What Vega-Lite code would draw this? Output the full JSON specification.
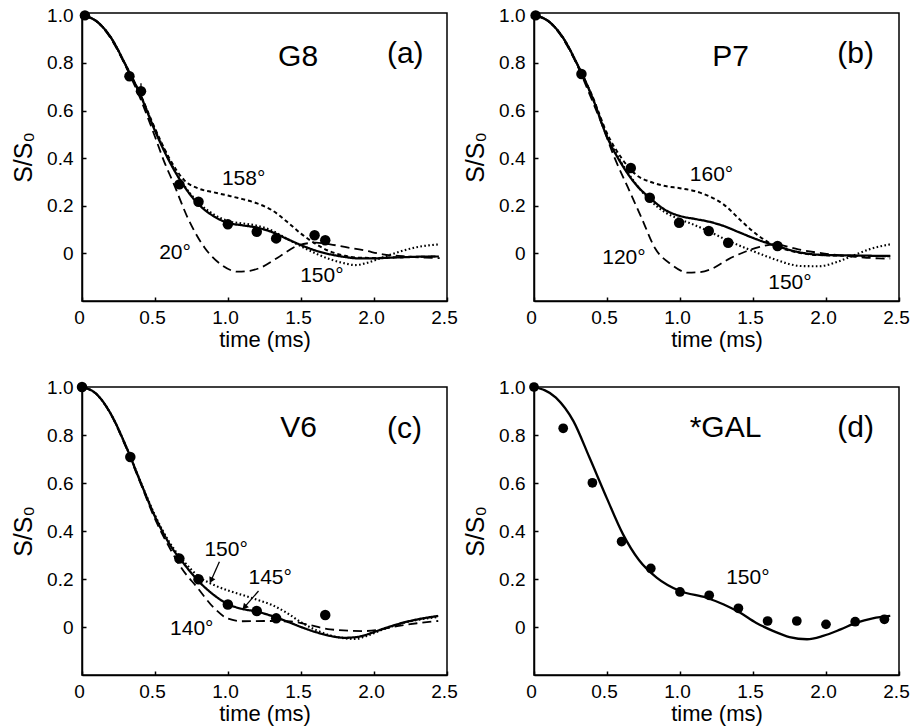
{
"$schema": "https://vega.github.io/schema/vega-lite/v6.json",
"padding": {"left": 10, "top": 5, "right": 5, "bottom": 2},
"bounds": "flush",
"columns": 2,
"spacing": {"row": 86, "column": 87},
"concat": [
{
"width": 365, "height": 288,
"encoding": {
 "x": {"field": "t", "type": "quantitative", "scale": {"domain": [0, 2.5], "nice": false}, "axis": {"title": "time (ms)", "values": [0, 0.5, 1, 1.5, 2, 2.5], "labelExpr": "datum.value==0?'0':format(datum.value,'.1f')"}},
 "y": {"field": "s", "type": "quantitative", "scale": {"domain": [-0.2, 1.01], "nice": false, "zero": false}, "axis": {"title": "S/S₀", "values": [0, 0.2, 0.4, 0.6, 0.8, 1], "labelExpr": "datum.value==0?'0':format(datum.value,'.1f')"}}
},
"layer": [
 {"data": {"values": [
  {"curve":"fit","t":0,"s":1.0},{"curve":"fit","t":0.1,"s":0.975},{"curve":"fit","t":0.2,"s":0.905},{"curve":"fit","t":0.3,"s":0.79},{"curve":"fit","t":0.4,"s":0.665},{"curve":"fit","t":0.5,"s":0.515},{"curve":"fit","t":0.6,"s":0.385},{"curve":"fit","t":0.7,"s":0.282},{"curve":"fit","t":0.8,"s":0.205},{"curve":"fit","t":0.9,"s":0.157},{"curve":"fit","t":1.0,"s":0.128},{"curve":"fit","t":1.1,"s":0.118},{"curve":"fit","t":1.2,"s":0.108},{"curve":"fit","t":1.3,"s":0.09},{"curve":"fit","t":1.4,"s":0.062},{"curve":"fit","t":1.5,"s":0.035},{"curve":"fit","t":1.6,"s":0.012},{"curve":"fit","t":1.7,"s":-0.004},{"curve":"fit","t":1.8,"s":-0.015},{"curve":"fit","t":1.9,"s":-0.021},{"curve":"fit","t":2.0,"s":-0.021},{"curve":"fit","t":2.1,"s":-0.018},{"curve":"fit","t":2.2,"s":-0.016},{"curve":"fit","t":2.3,"s":-0.014},{"curve":"fit","t":2.42,"s":-0.013},
  {"curve":"alt1","t":0,"s":1.0},{"curve":"alt1","t":0.1,"s":0.975},{"curve":"alt1","t":0.2,"s":0.905},{"curve":"alt1","t":0.3,"s":0.79},{"curve":"alt1","t":0.4,"s":0.665},{"curve":"alt1","t":0.5,"s":0.52},{"curve":"alt1","t":0.6,"s":0.39},{"curve":"alt1","t":0.7,"s":0.285},{"curve":"alt1","t":0.8,"s":0.212},{"curve":"alt1","t":0.9,"s":0.165},{"curve":"alt1","t":1.0,"s":0.136},{"curve":"alt1","t":1.1,"s":0.126},{"curve":"alt1","t":1.2,"s":0.116},{"curve":"alt1","t":1.3,"s":0.096},{"curve":"alt1","t":1.4,"s":0.063},{"curve":"alt1","t":1.5,"s":0.03},{"curve":"alt1","t":1.6,"s":0.0},{"curve":"alt1","t":1.7,"s":-0.025},{"curve":"alt1","t":1.8,"s":-0.042},{"curve":"alt1","t":1.87,"s":-0.049},{"curve":"alt1","t":1.95,"s":-0.04},{"curve":"alt1","t":2.0,"s":-0.03},{"curve":"alt1","t":2.1,"s":-0.008},{"curve":"alt1","t":2.2,"s":0.012},{"curve":"alt1","t":2.3,"s":0.027},{"curve":"alt1","t":2.45,"s":0.038},
  {"curve":"alt2","t":0,"s":1.0},{"curve":"alt2","t":0.1,"s":0.975},{"curve":"alt2","t":0.2,"s":0.905},{"curve":"alt2","t":0.3,"s":0.79},{"curve":"alt2","t":0.4,"s":0.668},{"curve":"alt2","t":0.5,"s":0.525},{"curve":"alt2","t":0.6,"s":0.398},{"curve":"alt2","t":0.7,"s":0.308},{"curve":"alt2","t":0.8,"s":0.272},{"curve":"alt2","t":0.9,"s":0.257},{"curve":"alt2","t":1.0,"s":0.243},{"curve":"alt2","t":1.1,"s":0.228},{"curve":"alt2","t":1.2,"s":0.21},{"curve":"alt2","t":1.3,"s":0.182},{"curve":"alt2","t":1.4,"s":0.135},{"curve":"alt2","t":1.5,"s":0.083},{"curve":"alt2","t":1.6,"s":0.04},{"curve":"alt2","t":1.7,"s":0.008},{"curve":"alt2","t":1.8,"s":-0.01},{"curve":"alt2","t":1.9,"s":-0.018},{"curve":"alt2","t":2.0,"s":-0.019},{"curve":"alt2","t":2.2,"s":-0.016},{"curve":"alt2","t":2.45,"s":-0.013},
  {"curve":"alt3","t":0,"s":1.0},{"curve":"alt3","t":0.1,"s":0.975},{"curve":"alt3","t":0.2,"s":0.9},{"curve":"alt3","t":0.3,"s":0.785},{"curve":"alt3","t":0.4,"s":0.65},{"curve":"alt3","t":0.5,"s":0.49},{"curve":"alt3","t":0.56,"s":0.39},{"curve":"alt3","t":0.63,"s":0.29},{"curve":"alt3","t":0.72,"s":0.155},{"curve":"alt3","t":0.84,"s":0.024},{"curve":"alt3","t":0.95,"s":-0.046},{"curve":"alt3","t":1.07,"s":-0.077},{"curve":"alt3","t":1.15,"s":-0.073},{"curve":"alt3","t":1.23,"s":-0.058},{"curve":"alt3","t":1.34,"s":-0.018},{"curve":"alt3","t":1.48,"s":0.033},{"curve":"alt3","t":1.6,"s":0.045},{"curve":"alt3","t":1.7,"s":0.038},{"curve":"alt3","t":1.8,"s":0.027},{"curve":"alt3","t":1.93,"s":0.013},{"curve":"alt3","t":2.06,"s":-0.004},{"curve":"alt3","t":2.2,"s":-0.012},{"curve":"alt3","t":2.35,"s":-0.018},{"curve":"alt3","t":2.45,"s":-0.02}
 ]},
 "mark": {"type": "line", "interpolate": "monotone", "color": "black"},
 "encoding": {
  "strokeDash": {"field": "curve", "type": "nominal", "scale": {"domain": ["fit", "alt1", "alt2", "alt3"], "range": [[1, 0], [1.6, 2.4], [4, 3], [9, 5]]}, "legend": null},
  "strokeWidth": {"field": "curve", "type": "nominal", "scale": {"domain": ["fit", "alt1", "alt2", "alt3"], "range": [2.3, 1.8, 1.3, 1.3]}, "legend": null}
 }},
 {"data": {"values": [{"t": 0.404, "s": 0.681, "s2": 0.715}]}, "mark": {"type": "rule", "color": "black", "strokeWidth": 1.3}, "encoding": {"y2": {"field": "s2"}}},
 {"data": {"values": [
  {"t":0.02,"s":1.0},{"t":0.325,"s":0.744},{"t":0.404,"s":0.681},{"t":0.667,"s":0.29},{"t":0.798,"s":0.217},{"t":0.999,"s":0.122},{"t":1.197,"s":0.091},{"t":1.33,"s":0.063},{"t":1.593,"s":0.076},{"t":1.666,"s":0.055}
 ]}, "mark": {"type": "circle", "size": 110, "color": "black", "opacity": 1}},
 {"data": {"values": [{"t": 1.48, "s": 0.825, "label": "G8"}, {"t": 2.214, "s": 0.839, "label": "(a)"}]}, "mark": {"type": "text", "fontSize": 30, "align": "center", "baseline": "middle"}, "encoding": {"text": {"field": "label"}}},
 {"data": {"values": [{"t": 1.107, "s": 0.314, "label": "158°"}, {"t": 0.637, "s": 0.0, "label": "20°"}, {"t": 1.643, "s": -0.095, "label": "150°"}]}, "mark": {"type": "text", "fontSize": 21, "align": "center", "baseline": "middle"}, "encoding": {"text": {"field": "label"}}}
]
},
{
"width": 365, "height": 288,
"encoding": {
 "x": {"field": "t", "type": "quantitative", "scale": {"domain": [0, 2.5], "nice": false}, "axis": {"title": "time (ms)", "values": [0, 0.5, 1, 1.5, 2, 2.5], "labelExpr": "datum.value==0?'0':format(datum.value,'.1f')"}},
 "y": {"field": "s", "type": "quantitative", "scale": {"domain": [-0.2, 1.01], "nice": false, "zero": false}, "axis": {"title": "S/S₀", "values": [0, 0.2, 0.4, 0.6, 0.8, 1], "labelExpr": "datum.value==0?'0':format(datum.value,'.1f')"}}
},
"layer": [
 {"data": {"values": [
  {"curve":"fit","t":0,"s":1.0},{"curve":"fit","t":0.1,"s":0.975},{"curve":"fit","t":0.2,"s":0.905},{"curve":"fit","t":0.3,"s":0.79},{"curve":"fit","t":0.4,"s":0.655},{"curve":"fit","t":0.5,"s":0.49},{"curve":"fit","t":0.6,"s":0.375},{"curve":"fit","t":0.7,"s":0.288},{"curve":"fit","t":0.8,"s":0.23},{"curve":"fit","t":0.9,"s":0.182},{"curve":"fit","t":1.0,"s":0.157},{"curve":"fit","t":1.1,"s":0.145},{"curve":"fit","t":1.2,"s":0.133},{"curve":"fit","t":1.3,"s":0.115},{"curve":"fit","t":1.4,"s":0.09},{"curve":"fit","t":1.5,"s":0.065},{"curve":"fit","t":1.6,"s":0.043},{"curve":"fit","t":1.7,"s":0.024},{"curve":"fit","t":1.8,"s":0.007},{"curve":"fit","t":1.9,"s":-0.003},{"curve":"fit","t":2.0,"s":-0.007},{"curve":"fit","t":2.2,"s":-0.009},{"curve":"fit","t":2.44,"s":-0.011},
  {"curve":"alt1","t":0,"s":1.0},{"curve":"alt1","t":0.1,"s":0.975},{"curve":"alt1","t":0.2,"s":0.905},{"curve":"alt1","t":0.3,"s":0.79},{"curve":"alt1","t":0.4,"s":0.655},{"curve":"alt1","t":0.5,"s":0.495},{"curve":"alt1","t":0.6,"s":0.38},{"curve":"alt1","t":0.7,"s":0.29},{"curve":"alt1","t":0.8,"s":0.22},{"curve":"alt1","t":0.9,"s":0.172},{"curve":"alt1","t":1.0,"s":0.143},{"curve":"alt1","t":1.08,"s":0.124},{"curve":"alt1","t":1.2,"s":0.092},{"curve":"alt1","t":1.31,"s":0.059},{"curve":"alt1","t":1.47,"s":0.017},{"curve":"alt1","t":1.65,"s":-0.025},{"curve":"alt1","t":1.75,"s":-0.045},{"curve":"alt1","t":1.83,"s":-0.053},{"curve":"alt1","t":1.95,"s":-0.054},{"curve":"alt1","t":2.08,"s":-0.035},{"curve":"alt1","t":2.18,"s":-0.011},{"curve":"alt1","t":2.3,"s":0.018},{"curve":"alt1","t":2.44,"s":0.038},
  {"curve":"alt2","t":0,"s":1.0},{"curve":"alt2","t":0.1,"s":0.975},{"curve":"alt2","t":0.2,"s":0.905},{"curve":"alt2","t":0.3,"s":0.79},{"curve":"alt2","t":0.4,"s":0.66},{"curve":"alt2","t":0.5,"s":0.505},{"curve":"alt2","t":0.6,"s":0.4},{"curve":"alt2","t":0.7,"s":0.33},{"curve":"alt2","t":0.8,"s":0.3},{"curve":"alt2","t":0.9,"s":0.283},{"curve":"alt2","t":1.0,"s":0.274},{"curve":"alt2","t":1.1,"s":0.262},{"curve":"alt2","t":1.2,"s":0.24},{"curve":"alt2","t":1.3,"s":0.205},{"curve":"alt2","t":1.42,"s":0.136},{"curve":"alt2","t":1.54,"s":0.073},{"curve":"alt2","t":1.63,"s":0.038},{"curve":"alt2","t":1.75,"s":0.012},{"curve":"alt2","t":1.9,"s":-0.005},{"curve":"alt2","t":2.0,"s":-0.008},{"curve":"alt2","t":2.2,"s":-0.01},{"curve":"alt2","t":2.44,"s":-0.012},
  {"curve":"alt3","t":0,"s":1.0},{"curve":"alt3","t":0.1,"s":0.975},{"curve":"alt3","t":0.2,"s":0.9},{"curve":"alt3","t":0.3,"s":0.785},{"curve":"alt3","t":0.4,"s":0.64},{"curve":"alt3","t":0.46,"s":0.55},{"curve":"alt3","t":0.553,"s":0.4},{"curve":"alt3","t":0.644,"s":0.276},{"curve":"alt3","t":0.736,"s":0.15},{"curve":"alt3","t":0.827,"s":0.024},{"curve":"alt3","t":0.94,"s":-0.046},{"curve":"alt3","t":1.056,"s":-0.081},{"curve":"alt3","t":1.13,"s":-0.079},{"curve":"alt3","t":1.216,"s":-0.065},{"curve":"alt3","t":1.33,"s":-0.025},{"curve":"alt3","t":1.45,"s":0.008},{"curve":"alt3","t":1.54,"s":0.026},{"curve":"alt3","t":1.65,"s":0.038},{"curve":"alt3","t":1.81,"s":0.017},{"curve":"alt3","t":1.99,"s":-0.001},{"curve":"alt3","t":2.2,"s":-0.014},{"curve":"alt3","t":2.36,"s":-0.021},{"curve":"alt3","t":2.44,"s":-0.022}
 ]},
 "mark": {"type": "line", "interpolate": "monotone", "color": "black"},
 "encoding": {
  "strokeDash": {"field": "curve", "type": "nominal", "scale": {"domain": ["fit", "alt1", "alt2", "alt3"], "range": [[1, 0], [1.6, 2.4], [4, 3], [9, 5]]}, "legend": null},
  "strokeWidth": {"field": "curve", "type": "nominal", "scale": {"domain": ["fit", "alt1", "alt2", "alt3"], "range": [2.3, 1.8, 1.3, 1.3]}, "legend": null}
 }},
 {"data": {"values": [
  {"t":0.011,"s":1.0},{"t":0.325,"s":0.754},{"t":0.663,"s":0.359},{"t":0.793,"s":0.234},{"t":0.994,"s":0.129},{"t":1.197,"s":0.094},{"t":1.33,"s":0.045},{"t":1.668,"s":0.031}
 ]}, "mark": {"type": "circle", "size": 110, "color": "black", "opacity": 1}},
 {"data": {"values": [{"t": 1.346, "s": 0.825, "label": "P7"}, {"t": 2.203, "s": 0.839, "label": "(b)"}]}, "mark": {"type": "text", "fontSize": 30, "align": "center", "baseline": "middle"}, "encoding": {"text": {"field": "label"}}},
 {"data": {"values": [{"t": 1.216, "s": 0.328, "label": "160°"}, {"t": 0.616, "s": -0.018, "label": "120°"}, {"t": 1.753, "s": -0.123, "label": "150°"}]}, "mark": {"type": "text", "fontSize": 21, "align": "center", "baseline": "middle"}, "encoding": {"text": {"field": "label"}}}
]
},
{
"width": 365, "height": 288,
"encoding": {
 "x": {"field": "t", "type": "quantitative", "scale": {"domain": [0, 2.5], "nice": false}, "axis": {"title": "time (ms)", "values": [0, 0.5, 1, 1.5, 2, 2.5], "labelExpr": "datum.value==0?'0':format(datum.value,'.1f')"}},
 "y": {"field": "s", "type": "quantitative", "scale": {"domain": [-0.2, 1.0], "nice": false, "zero": false}, "axis": {"title": "S/S₀", "values": [0, 0.2, 0.4, 0.6, 0.8, 1], "labelExpr": "datum.value==0?'0':format(datum.value,'.1f')"}}
},
"layer": [
 {"data": {"values": [
  {"curve":"fit","t":0,"s":1.0},{"curve":"fit","t":0.1,"s":0.97},{"curve":"fit","t":0.2,"s":0.885},{"curve":"fit","t":0.3,"s":0.755},{"curve":"fit","t":0.4,"s":0.605},{"curve":"fit","t":0.5,"s":0.46},{"curve":"fit","t":0.6,"s":0.345},{"curve":"fit","t":0.7,"s":0.262},{"curve":"fit","t":0.8,"s":0.19},{"curve":"fit","t":0.9,"s":0.135},{"curve":"fit","t":1.0,"s":0.095},{"curve":"fit","t":1.1,"s":0.075},{"curve":"fit","t":1.2,"s":0.064},{"curve":"fit","t":1.3,"s":0.046},{"curve":"fit","t":1.4,"s":0.024},{"curve":"fit","t":1.5,"s":0.0},{"curve":"fit","t":1.6,"s":-0.021},{"curve":"fit","t":1.7,"s":-0.037},{"curve":"fit","t":1.8,"s":-0.045},{"curve":"fit","t":1.9,"s":-0.04},{"curve":"fit","t":2.0,"s":-0.021},{"curve":"fit","t":2.1,"s":0.0},{"curve":"fit","t":2.2,"s":0.018},{"curve":"fit","t":2.3,"s":0.032},{"curve":"fit","t":2.44,"s":0.046},
  {"curve":"alt1","t":0,"s":1.0},{"curve":"alt1","t":0.1,"s":0.97},{"curve":"alt1","t":0.2,"s":0.885},{"curve":"alt1","t":0.3,"s":0.755},{"curve":"alt1","t":0.4,"s":0.607},{"curve":"alt1","t":0.5,"s":0.465},{"curve":"alt1","t":0.6,"s":0.352},{"curve":"alt1","t":0.7,"s":0.272},{"curve":"alt1","t":0.8,"s":0.21},{"curve":"alt1","t":0.9,"s":0.176},{"curve":"alt1","t":1.0,"s":0.152},{"curve":"alt1","t":1.1,"s":0.133},{"curve":"alt1","t":1.2,"s":0.113},{"curve":"alt1","t":1.3,"s":0.092},{"curve":"alt1","t":1.4,"s":0.06},{"curve":"alt1","t":1.5,"s":0.02},{"curve":"alt1","t":1.6,"s":-0.012},{"curve":"alt1","t":1.7,"s":-0.035},{"curve":"alt1","t":1.8,"s":-0.047},{"curve":"alt1","t":1.87,"s":-0.05},{"curve":"alt1","t":1.95,"s":-0.037},{"curve":"alt1","t":2.05,"s":-0.013},{"curve":"alt1","t":2.16,"s":0.01},{"curve":"alt1","t":2.3,"s":0.03},{"curve":"alt1","t":2.44,"s":0.042},
  {"curve":"alt3","t":0,"s":1.0},{"curve":"alt3","t":0.1,"s":0.97},{"curve":"alt3","t":0.2,"s":0.883},{"curve":"alt3","t":0.3,"s":0.75},{"curve":"alt3","t":0.4,"s":0.6},{"curve":"alt3","t":0.5,"s":0.45},{"curve":"alt3","t":0.6,"s":0.33},{"curve":"alt3","t":0.68,"s":0.247},{"curve":"alt3","t":0.79,"s":0.164},{"curve":"alt3","t":0.9,"s":0.082},{"curve":"alt3","t":1.0,"s":0.035},{"curve":"alt3","t":1.1,"s":0.024},{"curve":"alt3","t":1.25,"s":0.025},{"curve":"alt3","t":1.43,"s":0.023},{"curve":"alt3","t":1.55,"s":0.01},{"curve":"alt3","t":1.7,"s":-0.01},{"curve":"alt3","t":1.93,"s":-0.017},{"curve":"alt3","t":2.05,"s":-0.01},{"curve":"alt3","t":2.16,"s":0.004},{"curve":"alt3","t":2.3,"s":0.016},{"curve":"alt3","t":2.44,"s":0.025}
 ]},
 "mark": {"type": "line", "interpolate": "monotone", "color": "black"},
 "encoding": {
  "strokeDash": {"field": "curve", "type": "nominal", "scale": {"domain": ["fit", "alt1", "alt2", "alt3"], "range": [[1, 0], [1.6, 2.4], [4, 3], [9, 5]]}, "legend": null},
  "strokeWidth": {"field": "curve", "type": "nominal", "scale": {"domain": ["fit", "alt1", "alt2", "alt3"], "range": [2.3, 1.8, 1.3, 1.3]}, "legend": null}
 }},
 {"data": {"values": [
  {"t":0.0,"s":1.0},{"t":0.331,"s":0.708},{"t":0.667,"s":0.285},{"t":0.798,"s":0.199},{"t":0.999,"s":0.094},{"t":1.197,"s":0.067},{"t":1.33,"s":0.036},{"t":1.666,"s":0.05}
 ]}, "mark": {"type": "circle", "size": 110, "color": "black", "opacity": 1}},
 {"data": {"values": [{"t": 0.941, "s": 0.272, "t2": 0.884, "s2": 0.194}, {"t": 1.209, "s": 0.15, "t2": 1.113, "s2": 0.083}]}, "mark": {"type": "rule", "color": "black", "strokeWidth": 1.3}, "encoding": {"x2": {"field": "t2"}, "y2": {"field": "s2"}}},
 {"data": {"values": [{"t": 0.884, "s": 0.194}]}, "mark": {"type": "point", "shape": "triangle-up", "filled": true, "color": "black", "opacity": 1, "size": 45, "angle": 206.6}},
 {"data": {"values": [{"t": 1.113, "s": 0.083}]}, "mark": {"type": "point", "shape": "triangle-up", "filled": true, "color": "black", "opacity": 1, "size": 45, "angle": 221.6}},
 {"data": {"values": [{"t": 1.484, "s": 0.83, "label": "V6"}, {"t": 2.209, "s": 0.823, "label": "(c)"}]}, "mark": {"type": "text", "fontSize": 30, "align": "center", "baseline": "middle"}, "encoding": {"text": {"field": "label"}}},
 {"data": {"values": [{"t": 0.987, "s": 0.321, "label": "150°"}, {"t": 1.289, "s": 0.203, "label": "145°"}, {"t": 0.752, "s": -0.01, "label": "140°"}]}, "mark": {"type": "text", "fontSize": 21, "align": "center", "baseline": "middle"}, "encoding": {"text": {"field": "label"}}}
]
},
{
"width": 365, "height": 288,
"encoding": {
 "x": {"field": "t", "type": "quantitative", "scale": {"domain": [0, 2.5], "nice": false}, "axis": {"title": "time (ms)", "values": [0, 0.5, 1, 1.5, 2, 2.5], "labelExpr": "datum.value==0?'0':format(datum.value,'.1f')"}},
 "y": {"field": "s", "type": "quantitative", "scale": {"domain": [-0.2, 1.0], "nice": false, "zero": false}, "axis": {"title": "S/S₀", "values": [0, 0.2, 0.4, 0.6, 0.8, 1], "labelExpr": "datum.value==0?'0':format(datum.value,'.1f')"}}
},
"layer": [
 {"data": {"values": [
  {"t":0,"s":1.0},{"t":0.15,"s":0.956},{"t":0.27,"s":0.858},{"t":0.38,"s":0.706},{"t":0.5,"s":0.535},{"t":0.61,"s":0.386},{"t":0.72,"s":0.278},{"t":0.84,"s":0.206},{"t":1.0,"s":0.15},{"t":1.18,"s":0.122},{"t":1.3,"s":0.094},{"t":1.41,"s":0.06},{"t":1.52,"s":0.018},{"t":1.64,"s":-0.017},{"t":1.75,"s":-0.042},{"t":1.87,"s":-0.051},{"t":1.98,"s":-0.037},{"t":2.1,"s":-0.01},{"t":2.21,"s":0.018},{"t":2.32,"s":0.036},{"t":2.44,"s":0.046}
 ]},
 "mark": {"type": "line", "interpolate": "monotone", "color": "black", "strokeWidth": 2.3}},
 {"data": {"values": [
  {"t":0.0,"s":1.0},{"t":0.2,"s":0.828},{"t":0.4,"s":0.601},{"t":0.6,"s":0.356},{"t":0.8,"s":0.244},{"t":1.0,"s":0.146},{"t":1.2,"s":0.132},{"t":1.4,"s":0.078},{"t":1.6,"s":0.025},{"t":1.8,"s":0.025},{"t":2.0,"s":0.011},{"t":2.2,"s":0.022},{"t":2.4,"s":0.032}
 ]}, "mark": {"type": "circle", "size": 95, "color": "black", "opacity": 1}},
 {"data": {"values": [{"t": 1.312, "s": 0.83, "label": "*GAL"}, {"t": 2.203, "s": 0.83, "label": "(d)"}]}, "mark": {"type": "text", "fontSize": 30, "align": "center", "baseline": "middle"}, "encoding": {"text": {"field": "label"}}},
 {"data": {"values": [{"t": 1.465, "s": 0.203, "label": "150°"}]}, "mark": {"type": "text", "fontSize": 21, "align": "center", "baseline": "middle"}, "encoding": {"text": {"field": "label"}}}
]
}
],
"config": {
 "view": {"stroke": "black", "strokeWidth": 1.5},
 "axis": {"grid": false, "domainColor": "black", "domainWidth": 1.5, "tickColor": "black", "tickSize": -4, "tickWidth": 1.5, "labelFont": "Liberation Sans", "labelFontSize": 19, "labelColor": "black", "titleFont": "Liberation Sans", "titleFontWeight": "normal", "titleColor": "black"},
 "axisX": {"labelPadding": 11, "labelFlush": false, "labelOffset": -3, "titleFontSize": 22, "titlePadding": 2},
 "axisY": {"labelPadding": 13, "titleFontSize": 25, "titlePadding": 10},
 "text": {"font": "Liberation Sans", "color": "black"}
}
}
